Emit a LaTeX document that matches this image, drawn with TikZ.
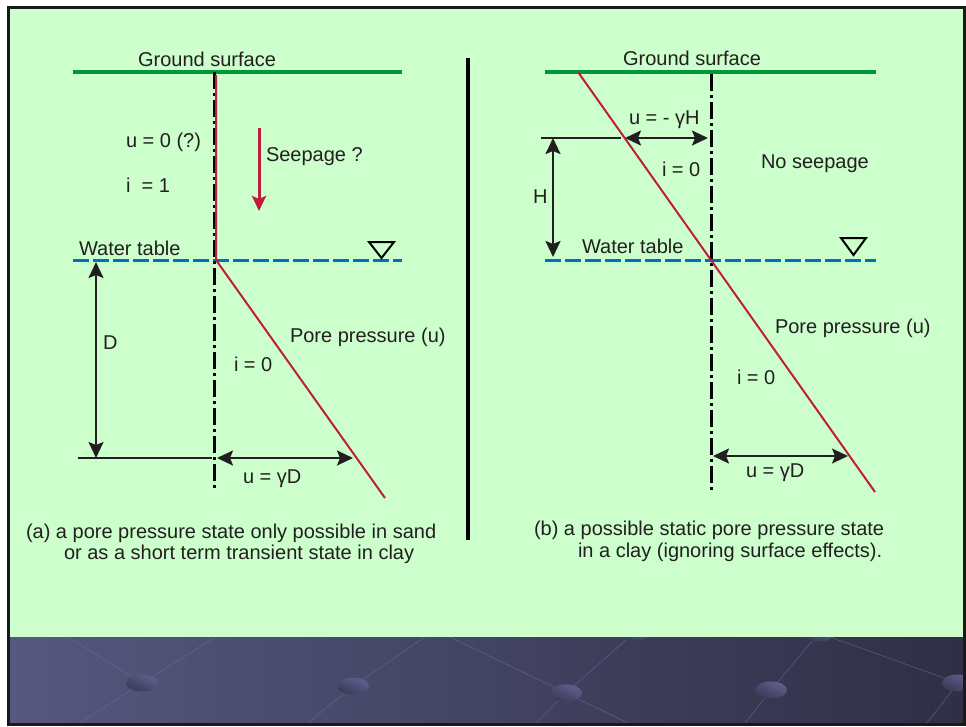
\documentclass[tikz,border=0pt]{standalone}
\usepackage{fontspec}
\setmainfont{Liberation Sans}
\usetikzlibrary{arrows.meta}
\definecolor{bg}{HTML}{CCFFCC}
\definecolor{gline}{HTML}{00963C}
\definecolor{wline}{HTML}{0070C0}
\definecolor{pline}{HTML}{BE1E3C}
\definecolor{bandL}{HTML}{57577F}
\definecolor{bandR}{HTML}{2F2F46}
\definecolor{txt}{HTML}{231F20}
\definecolor{bandline}{HTML}{6A6A98}
\definecolor{ballhi}{HTML}{60608E}
\definecolor{balllo}{HTML}{393957}
\begin{document}
\begin{tikzpicture}[x=1pt,y=-1pt,
  every node/.style={inner sep=0pt, outer sep=0pt, font=\fontsize{20}{24}\selectfont, text=txt},
  lbl/.style={anchor=base west},
  ground/.style={draw=gline, line width=4pt},
  water/.style={draw=wline, line width=3pt, dash pattern=on 16pt off 4pt},
  axisline/.style={draw=black, line width=3pt, dash pattern=on 17pt off 4pt on 3pt off 4pt},
  pore/.style={draw=pline, line width=2pt, line join=miter},
  dim/.style={draw=txt, line width=2.2pt},
  dimarrow/.style={dim, {Stealth[length=16pt,width=15pt,inset=3pt,fill=txt]}-{Stealth[length=16pt,width=15pt,inset=3pt,fill=txt]}},
  seep/.style={draw=pline, line width=3pt, -{Stealth[length=15pt,width=14pt,inset=3pt]}},
  wtmark/.style={draw=black, line width=2pt, line join=miter},
  bline/.style={draw=bandline, line width=0.7pt, opacity=0.6},
  ballshape/.style={top color=ballhi, bottom color=balllo, shading angle=-25}
]
\useasboundingbox (0,0) rectangle (966,726);
% frame and background
\fill[white] (0,0) rectangle (966,726);
\fill[bg] (8,8) rectangle (964,637);
\shade[left color=bandL, right color=bandR] (8,637) rectangle (964,723);
\begin{scope}
  \clip (8,637) rectangle (964,723);
  \coordinate (s1) at (142,683);
  \coordinate (s2) at (353,686);
  \coordinate (s3) at (566,693);
  \coordinate (s4) at (771,690);
  \coordinate (s5) at (958,683);
  \coordinate (p1) at (635,632);
  \coordinate (p2) at (819,633);
  \draw[bline] (68,637) -- (s1) -- (80,723);
  \draw[bline] (s1) -- (216,637);
  \draw[bline] (s2) -- (425,637);
  \draw[bline] (s2) -- (308,723);
  \draw[bline] (450,637) -- (s3) -- (628,723);
  \draw[bline] (s3) -- (p1);
  \draw[bline] (s3) -- (536,723);
  \draw[bline] (s4) -- (p2);
  \draw[bline] (s4) -- (745,723);
  \draw[bline] (p2) -- (s5) -- (927,723);
  \foreach \s in {s1,s2,s3,s4,s5,p1,p2}
    \shade[ballshape] (\s) ellipse [x radius=16, y radius=8.5];
\end{scope}
\draw[black!90, line width=3pt] (8.5,7.5) rectangle (964.5,724.5);

% ---------------- left panel ----------------
\coordinate (gLa) at (73,72);   \coordinate (gLb) at (402,72);
\coordinate (wLa) at (73,260);  \coordinate (wLb) at (402,260);
\coordinate (aLa) at (214,72);  \coordinate (aLb) at (214,490);
\coordinate (rLa) at (216,75);  \coordinate (rLb) at (216,260); \coordinate (rLc) at (385,498);
\coordinate (seA) at (259,128); \coordinate (seB) at (259,211);
\coordinate (dTop) at (96,262); \coordinate (dBot) at (96,458);
\coordinate (hLa) at (78,458);  \coordinate (hLb) at (212,458);
\coordinate (uDa) at (217,458); \coordinate (uDb) at (353,458);

\draw[ground] (gLa) -- (gLb);
\draw[water] (wLa) -- (wLb);
\draw[axisline] (aLa) -- (aLb);
\draw[pore] (rLa) -- (rLb) -- (rLc);
\draw[seep] (seA) -- (seB);
\draw[dim] (hLa) -- (hLb);
\draw[dimarrow] (dTop) -- (dBot);
\draw[dimarrow] (uDa) -- (uDb);
\draw[wtmark] (369,242) -- (394,242) -- (381.5,258) -- cycle;

\node[anchor=base] (gsL) at (207,66) {Ground surface};
\node[lbl] (u0) at (126,147) {u = 0 (?)};
\node[lbl] (i1) at (126,192) {i \ = 1};
\node[lbl] (seepq) at (266,161) {Seepage ?};
\node[lbl] (wtL) at (79,255) {Water table};
\node[lbl] (dL) at (103,349) {D};
\node[lbl] (i0L) at (234,371) {i = 0};
\node[lbl] (ppL) at (290,342) {Pore pressure (u)};
\node[lbl] (ugL) at (243,483) {u = γD};
\node[lbl] (capA1) at (26,538) {(a) a pore pressure state only possible in sand};
\node[lbl] (capA2) at (64,559) {or as a short term transient state in clay};

% divider
\coordinate (divA) at (468,58); \coordinate (divB) at (468,540);
\draw[black, line width=3.5pt] (divA) -- (divB);

% ---------------- right panel ----------------
\coordinate (gRa) at (545,72);  \coordinate (gRb) at (876,72);
\coordinate (wRa) at (545,260); \coordinate (wRb) at (876,260);
\coordinate (aRa) at (711,74);  \coordinate (aRb) at (711,490);
\coordinate (rRa) at (578,72);  \coordinate (rRb) at (875,492);
\coordinate (hRa) at (541,138); \coordinate (hRb) at (621,138);
\coordinate (hTop) at (553,138); \coordinate (hBot) at (553,257);
\coordinate (uHa) at (625,138); \coordinate (uHb) at (708,138);
\coordinate (uRa) at (713,456); \coordinate (uRb) at (848,456);

\draw[ground] (gRa) -- (gRb);
\draw[water] (wRa) -- (wRb);
\draw[axisline] (aRa) -- (aRb);
\draw[pore] (rRa) -- (rRb);
\draw[dim] (hRa) -- (hRb);
\draw[dimarrow] (hTop) -- (hBot);
\draw[dimarrow] (uHa) -- (uHb);
\draw[dimarrow] (uRa) -- (uRb);
\draw[wtmark] (841,238) -- (866,238) -- (853.5,255) -- cycle;

\node[anchor=base] (gsR) at (692,65) {Ground surface};
\node[lbl] (uH) at (629,124) {u = - γH};
\node[lbl] (i0Ra) at (662,176) {i = 0};
\node[lbl] (noseep) at (761,168) {No seepage};
\node[lbl] (hR) at (533,203) {H};
\node[lbl] (wtR) at (582,253) {Water table};
\node[lbl] (ppR) at (775,333) {Pore pressure (u)};
\node[lbl] (i0Rb) at (737,384) {i = 0};
\node[lbl] (ugR) at (746,477) {u = γD};
\node[lbl] (capB1) at (534,535) {(b) a possible static pore pressure state};
\node[lbl] (capB2) at (578,557) {in a clay (ignoring surface effects).};
\end{tikzpicture}
\end{document}
